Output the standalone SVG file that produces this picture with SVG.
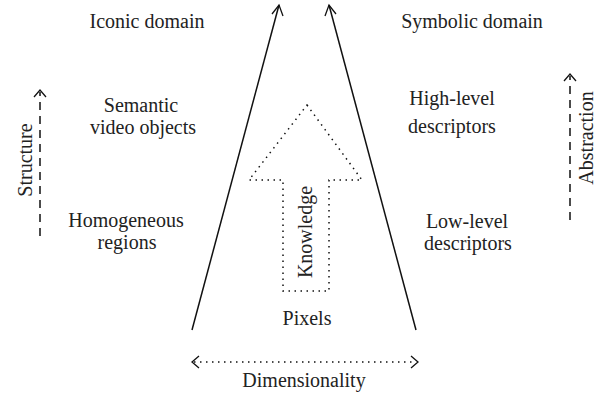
<svg xmlns="http://www.w3.org/2000/svg" width="604" height="396" viewBox="0 0 604 396">
<style>
text{font-family:"Liberation Serif","DejaVu Serif",serif;font-size:20px;fill:#222;text-anchor:middle}
.ln{stroke:#111;stroke-width:1.5;fill:none}
.dash{stroke:#111;stroke-width:1.5;fill:none;stroke-dasharray:8 6}
.dot{stroke:#111;stroke-width:1.5;fill:none;stroke-dasharray:1.5 4.5}
.ah{stroke:#111;stroke-width:1.3;fill:none}
</style>
<rect width="604" height="396" fill="#fff"/>
<g id="labels">
<text x="147" y="28">Iconic domain</text>
<text x="472" y="28">Symbolic domain</text>
<text x="141" y="112">Semantic</text>
<text x="143" y="134">video objects</text>
<text x="126" y="227">Homogeneous</text>
<text x="127" y="249">regions</text>
<text x="452" y="105">High-level</text>
<text x="452" y="133">descriptors</text>
<text x="467" y="228">Low-level</text>
<text x="468" y="250">descriptors</text>
<text x="307" y="325">Pixels</text>
<text x="304" y="387">Dimensionality</text>
</g>
<g id="connectors">
<path class="ln" d="M192,330 L279,5"/>
<path class="ah" d="M272,14 L279,5 L283,16"/>
<path class="ln" d="M416,330 L329,5"/>
<path class="ah" d="M325,16 L329,5 L336,14"/>
</g>
<g id="knowledge">
<path class="dot" d="M307,105 L362,180 L329,180 L329,291 L283,291 L283,180 L249,180 Z"/>
<text transform="translate(312,232) rotate(-90)">Knowledge</text>
</g>
<g id="structure">
<path class="dash" d="M40,236 L40,92"/>
<path class="ah" d="M34,97 L40,90 L46,97"/>
<text transform="translate(32,160) rotate(-90)">Structure</text>
</g>
<g id="abstraction">
<path class="dash" d="M570,220 L570,76"/>
<path class="ah" d="M564,81 L570,74 L576,81"/>
<text transform="translate(593,138) rotate(-90)">Abstraction</text>
</g>
<g id="dimensionality">
<path class="dot" d="M194,362 L416,362"/>
<path class="ah" d="M199,356 L192,362 L199,368"/>
<path class="ah" d="M411,356 L418,362 L411,368"/>
</g>
</svg>
